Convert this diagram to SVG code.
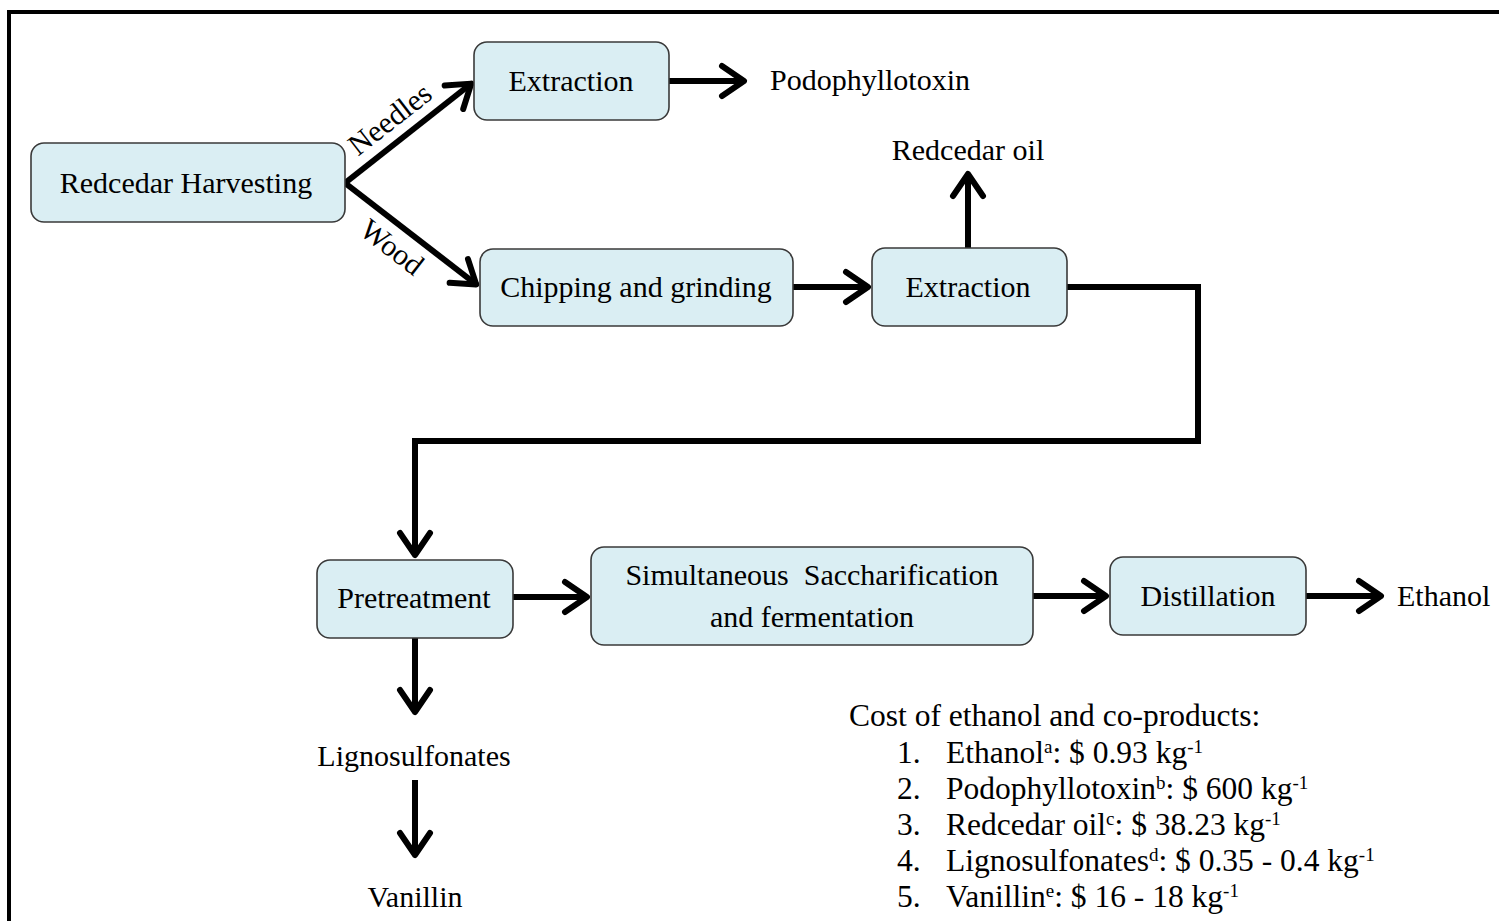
<svg xmlns="http://www.w3.org/2000/svg" width="1499" height="921" viewBox="0 0 1499 921">
<style>
.box{fill:#DAEEF3;stroke:#3a3a3a;stroke-width:1.6}
.t{font-family:"Liberation Serif","Times New Roman",serif;font-size:30px;fill:#000}
.tc{text-anchor:middle}
.c{font-family:"Liberation Serif","Times New Roman",serif;font-size:31.5px;fill:#000}
.sup{font-size:19px}
.ln{stroke:#000;stroke-width:6;fill:none;stroke-linejoin:miter}
.ar{marker-end:url(#ah)}
</style>
<defs>
<marker id="ah" markerUnits="userSpaceOnUse" markerWidth="60" markerHeight="60" refX="0" refY="0" orient="auto" overflow="visible">
<path d="M-23,-15 L-1,0 L-23,15" fill="none" stroke="#000" stroke-width="6" stroke-linecap="round" stroke-linejoin="round"/>
</marker>
</defs>
<rect x="0" y="0" width="1499" height="921" fill="#fff"/>
<rect x="9" y="12" width="1520" height="940" fill="none" stroke="#000" stroke-width="4"/>

<g id="connectors">
<line class="ln ar" x1="345" y1="183" x2="472" y2="83"/>
<line class="ln ar" x1="345" y1="183" x2="477" y2="285"/>
<line class="ln ar" x1="669" y1="81" x2="745" y2="81"/>
<line class="ln ar" x1="793" y1="287" x2="869" y2="287"/>
<line class="ln ar" x1="968" y1="248" x2="968" y2="173"/>
<polyline class="ln ar" points="1067,287 1198,287 1198,441 415,441 415,556"/>
<line class="ln ar" x1="513" y1="597" x2="588" y2="597"/>
<line class="ln ar" x1="1033" y1="596" x2="1107" y2="596"/>
<line class="ln ar" x1="1306" y1="596" x2="1382" y2="596"/>
<line class="ln ar" x1="415" y1="638" x2="415" y2="713"/>
<line class="ln ar" x1="415" y1="780" x2="415" y2="856"/>
<text class="t tc" transform="translate(396,127) rotate(-38)">Needles</text>
<text class="t tc" transform="translate(386,255) rotate(38)">Wood</text>
</g>

<g id="harvesting">
<rect class="box" x="31" y="143" width="314" height="79" rx="13"/>
<text class="t tc" x="186" y="193">Redcedar Harvesting</text>
</g>
<g id="extraction1">
<rect class="box" x="474" y="42" width="195" height="78" rx="13"/>
<text class="t tc" x="571" y="91">Extraction</text>
</g>
<g id="podophyllotoxin">
<text class="t" x="770" y="90">Podophyllotoxin</text>
</g>
<g id="chipping">
<rect class="box" x="480" y="249" width="313" height="77" rx="13"/>
<text class="t tc" x="636" y="297">Chipping and grinding</text>
</g>
<g id="extraction2">
<rect class="box" x="872" y="248" width="195" height="78" rx="13"/>
<text class="t tc" x="968" y="297">Extraction</text>
</g>
<g id="redcedar-oil">
<text class="t tc" x="968" y="160">Redcedar oil</text>
</g>
<g id="pretreatment">
<rect class="box" x="317" y="560" width="196" height="78" rx="13"/>
<text class="t tc" x="414" y="608">Pretreatment</text>
</g>
<g id="ssf">
<rect class="box" x="591" y="547" width="442" height="98" rx="13"/>
<text class="t tc" x="812" y="585" xml:space="preserve">Simultaneous  Saccharification</text>
<text class="t tc" x="812" y="627">and fermentation</text>
</g>
<g id="distillation">
<rect class="box" x="1110" y="557" width="196" height="78" rx="13"/>
<text class="t tc" x="1208" y="606">Distillation</text>
</g>
<g id="ethanol">
<text class="t" x="1397" y="606">Ethanol</text>
</g>
<g id="lignosulfonates">
<text class="t tc" x="414" y="766">Lignosulfonates</text>
</g>
<g id="vanillin">
<text class="t tc" x="415" y="907">Vanillin</text>
</g>

<g id="cost-legend">
<text class="c" x="849" y="726">Cost of ethanol and co-products:</text>
<text class="c" x="897" y="763">1.</text>
<text class="c" x="946" y="763">Ethanol<tspan class="sup" dy="-10">a</tspan><tspan dy="10">: $ 0.93 kg</tspan><tspan class="sup" dy="-10">-1</tspan></text>
<text class="c" x="897" y="799">2.</text>
<text class="c" x="946" y="799">Podophyllotoxin<tspan class="sup" dy="-10">b</tspan><tspan dy="10">: $ 600 kg</tspan><tspan class="sup" dy="-10">-1</tspan></text>
<text class="c" x="897" y="835">3.</text>
<text class="c" x="946" y="835">Redcedar oil<tspan class="sup" dy="-10">c</tspan><tspan dy="10">: $ 38.23 kg</tspan><tspan class="sup" dy="-10">-1</tspan></text>
<text class="c" x="897" y="871">4.</text>
<text class="c" x="946" y="871">Lignosulfonates<tspan class="sup" dy="-10">d</tspan><tspan dy="10">: $ 0.35 - 0.4 kg</tspan><tspan class="sup" dy="-10">-1</tspan></text>
<text class="c" x="897" y="907">5.</text>
<text class="c" x="946" y="907">Vanillin<tspan class="sup" dy="-10">e</tspan><tspan dy="10">: $ 16 - 18 kg</tspan><tspan class="sup" dy="-10">-1</tspan></text>
</g>
</svg>
